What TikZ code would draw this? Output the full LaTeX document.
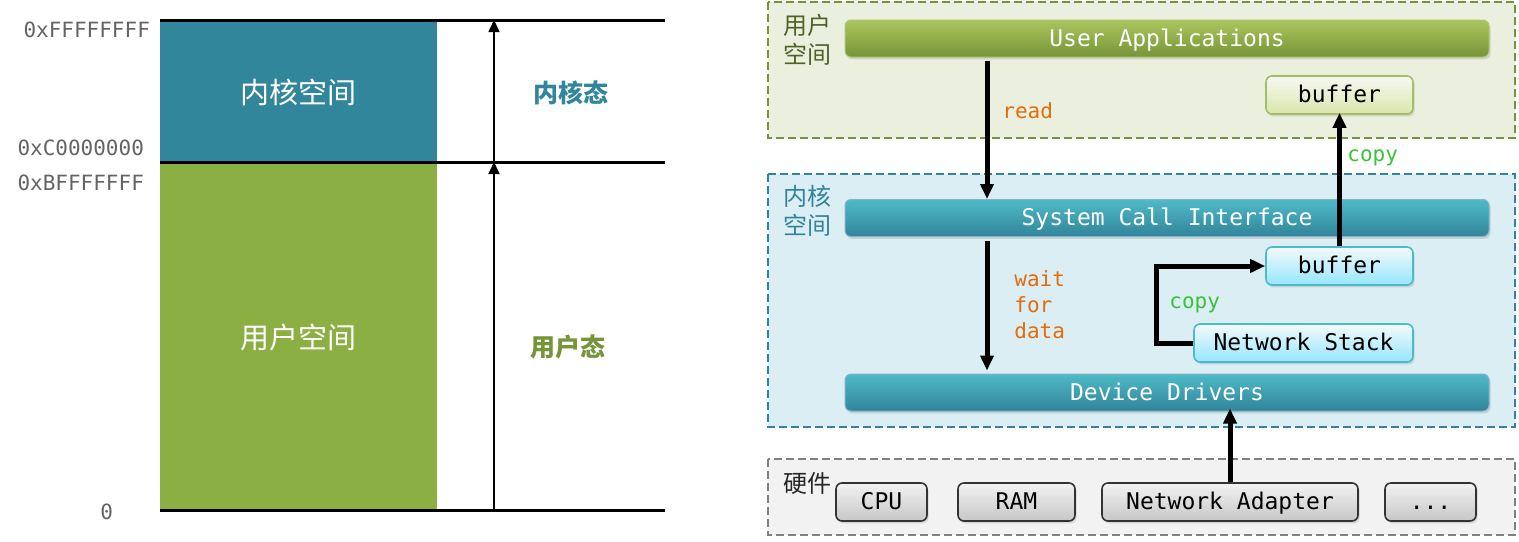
\documentclass[tikz,border=0pt]{standalone}
\usepackage{fontspec}
\setmonofont{DejaVu Sans Mono}
\newfontfamily\cjk{Noto Sans CJK SC}
\usetikzlibrary{arrows.meta, positioning, calc, shadows}
\definecolor{kernblue}{RGB}{50, 134, 156}
\definecolor{usergreen}{RGB}{139, 175, 66}
\definecolor{hexgray}{RGB}{100, 100, 100}
\definecolor{userzone}{RGB}{235, 240, 222}
\definecolor{userline}{RGB}{119, 147, 60}
\definecolor{usertext}{RGB}{79, 98, 40}
\definecolor{kernzone}{RGB}{219, 238, 244}
\definecolor{kernline}{RGB}{49, 132, 155}
\definecolor{hwzone}{RGB}{242, 242, 242}
\definecolor{hwline}{RGB}{128, 128, 128}
\definecolor{readorange}{RGB}{228, 108, 10}
\definecolor{copygreen}{RGB}{57, 194, 57}

\begin{document}
\begin{tikzpicture}[x=0.5pt, y=-0.5pt, >={Triangle[length=6pt, width=5.5pt]},
    region/.style={text=white, font=\cjk\fontsize{14.5}{16}\selectfont},
    state/.style={font=\cjk\bfseries\fontsize{12.5}{14}\selectfont},
    hexlabel/.style={anchor=east, text=hexgray, font=\ttfamily\fontsize{10.5}{12}\selectfont},
    zone/.style={line width=1pt, dash pattern=on 4pt off 2pt},
    zonelabel/.style={anchor=north west, align=left, inner sep=0pt,
        font=\cjk\fontsize{12}{14.5}\selectfont},
    bar/.style={rounded corners=3pt, minimum width=322pt, minimum height=18.5pt,
        inner sep=0pt, text height=1.9ex, text depth=0.1ex,
        text=white, font=\ttfamily\fontsize{11.5}{13}\selectfont,
        line width=0.5pt, drop shadow={opacity=0.25, shadow xshift=0.8pt, shadow yshift=-1.2pt}},
    greenbar/.style={bar, draw=usergreen!70!white, top color=usergreen!80!white!90!yellow, bottom color=usergreen!85!black},
    bluebar/.style={bar, draw=kernline!60!white, top color=kernline!70!cyan!80!white, bottom color=kernline},
    smallbox/.style={rounded corners=3pt, minimum height=19pt, inner sep=0pt, line width=0.8pt,
        text height=1.9ex, text depth=0.1ex,
        font=\ttfamily\fontsize{11.5}{13}\selectfont,
        drop shadow={opacity=0.25, shadow xshift=0.8pt, shadow yshift=-1.2pt}},
    ubuf/.style={smallbox, draw=usergreen!80!white, top color=userzone!40!white, bottom color=usergreen!35!white!90!yellow},
    kbuf/.style={smallbox, draw=kernline!70!cyan!80!white, top color=kernzone!30!white, bottom color=cyan!35!white!90!blue},
    hwbox/.style={smallbox, draw=black!80, top color=white!95!black, bottom color=white!78!black},
    flow/.style={-{Triangle[length=7.5pt, width=6.5pt]}, line width=2.5pt},
    note/.style={font=\ttfamily\fontsize{10.5}{13}\selectfont, inner sep=0pt}]
    \useasboundingbox (0,0) rectangle (1519,541);

    % address space
    \fill[kernblue] (160,20) rectangle (437,162);
    \fill[usergreen] (160,162) rectangle (437,510);
    \foreach \y in {20, 162, 510}
        \draw[line width=1.5pt] (160,\y) -- (665,\y);
    \node[region] (kspace) at (298,92) {内核空间};
    \node[region] (uspace) at (298,337) {用户空间};
    \node[hexlabel] (hexf) at (157,30) {0xFFFFFFFF};
    \node[hexlabel] (hexc) at (151,148) {0xC0000000};
    \node[hexlabel] (hexb) at (151,183) {0xBFFFFFFF};
    \node[hexlabel] (hexz) at (120,512) {0};
    \coordinate (top) at (494,20);
    \coordinate (mid) at (494,162);
    \coordinate (bot) at (494,510);
    \draw[->, line width=0.8pt] (mid) -- (top);
    \draw[->, line width=0.8pt] (bot) -- (mid);
    \node[state, text=kernblue] (kstate) at (571,93) {内核态};
    \node[state, text=usergreen!85!black] (ustate) at (568,347) {用户态};

    % zones
    \draw[zone, draw=userline, fill=userzone] (768,2) rectangle (1515,138);
    \draw[zone, draw=kernline, fill=kernzone] (768,174) rectangle (1515,427);
    \draw[zone, draw=hwline, fill=hwzone] (768,459) rectangle (1515,535);
    \node[zonelabel, text=usertext] (ulabel) at (783,14) {用户\\空间};
    \node[zonelabel, text=kernline] (klabel) at (783,185) {内核\\空间};
    \node[zonelabel, text=black!85] (hlabel) at (783,472) {硬件};

    % layers
    \node[greenbar] (apps) at (1167,38.5) {User Applications};
    \node[ubuf, minimum width=73.5pt] (ubuffer) at (1339.5,95) {buffer};
    \node[bluebar] (sci) at (1167,218) {System Call Interface};
    \node[kbuf, minimum width=73.5pt] (kbuffer) at (1339.5,266) {buffer};
    \node[kbuf, minimum width=109.5pt] (nstack) at (1303.5,343) {Network Stack};
    \node[bluebar] (drivers) at (1167,392.5) {Device Drivers};

    % hardware
    \node[hwbox, minimum width=45.5pt] (cpu) at (881.5,502) {CPU};
    \node[hwbox, minimum width=58.5pt] (ram) at (1016.5,502) {RAM};
    \node[hwbox, minimum width=128pt] (adapter) at (1230,502) {Network Adapter};
    \node[hwbox, minimum width=45.5pt] (more) at (1430.5,502) {...};

    % data path
    \coordinate (rd) at (987,0);
    \draw[flow] ($(apps.south -| rd)+(0,3)$) -- (sci.north -| rd);
    \draw[flow] ($(sci.south -| rd)+(0,4)$) -- ($(drivers.north -| rd)+(0,-3)$);
    \draw[flow] (kbuffer.north) -- ($(ubuffer.south)+(0,-2)$);
    \draw[flow] (nstack.west) -- ++(-37,0) |- (kbuffer.west);
    \draw[flow] (adapter.north) -- ($(drivers.south -| adapter.north)+(0,-3)$);
    \node[note, text=readorange, anchor=west] (readlbl) at (1002,111) {read};
    \node[note, text=readorange, anchor=north west, align=left] (waitlbl) at (1014,270) {wait\\for\\data};
    \node[note, text=copygreen, anchor=west] (copyup) at (1347,158) {copy};
    \node[note, text=copygreen, anchor=west] (copylow) at (1169,305) {copy};
\end{tikzpicture}
\end{document}
